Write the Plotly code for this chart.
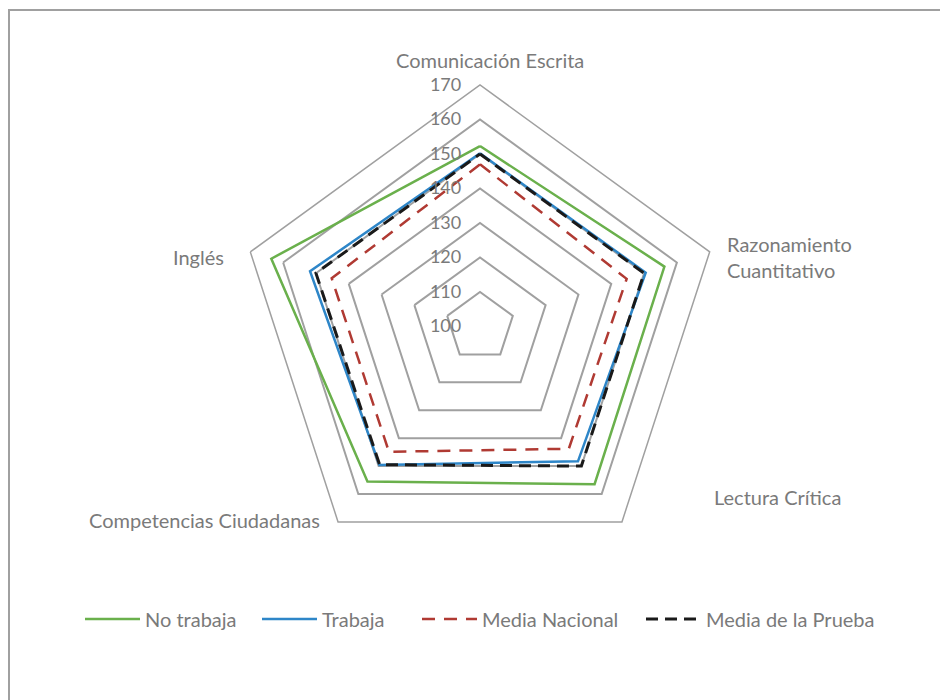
import plotly.graph_objects as go

categories = ["Comunicación Escrita", "Razonamiento Cuantitativo", "Lectura Crítica",
              "Competencias Ciudadanas", "Inglés"]
category_labels = ["Comunicación Escrita", "Razonamiento<br>Cuantitativo", "Lectura Crítica",
                   "Competencias Ciudadanas", "Inglés"]
no_trabaja = [152.3, 156.2, 156.5, 155.5, 163.6]
trabaja = [150.2, 150.5, 148.3, 149.6, 151.8]
media_nacional = [147.0, 144.7, 143.8, 144.9, 145.2]
media_prueba = [150.0, 150.0, 150.0, 149.5, 150.0]
radial_ticks = [100, 110, 120, 130, 140, 150, 160, 170]

FONT = "Lato"
TXT = "#7a7a7a"

def closed(v):
    return v + v[:1]

theta = closed(categories)

series = [
    ("No trabaja", no_trabaja, "#6AB04C", "solid", 2.5, "legend"),
    ("Trabaja", trabaja, "#2E86C8", "solid", 2.5, "legend2"),
    ("Media Nacional", media_nacional, "#B03A33", "13px,9px", 2.5, "legend3"),
    ("Media de la Prueba", media_prueba, "#1a1a1a", "12px,7px", 3, "legend4"),
]

fig = go.Figure()
for name, vals, color, dash, w, lg in series:
    fig.add_trace(go.Scatterpolar(
        r=closed(vals), theta=theta, mode="lines", name=name,
        line=dict(color=color, width=w, dash=dash),
        legend=lg, hoverinfo="skip"))

W, H = 948, 700
OFF = 8  # page body margin


def px(x):
    return (x - OFF) / W


def py(y):
    return 1 - (y - OFF) / H


cx, cy, R = 480, 326.5, 241.5

legend_x_px = [86, 263, 423, 647]
leg_common = dict(orientation="h", yanchor="middle", y=py(619), xanchor="left",
                  font=dict(family=FONT, size=20, color=TXT), bgcolor="rgba(0,0,0,0)",
                  itemwidth=55, tracegroupgap=0)
legends = {}
for i, key in enumerate(["legend", "legend2", "legend3", "legend4"]):
    legends[key] = dict(leg_common, x=px(legend_x_px[i] - 6))

annotations = []
label_pos = [
    (490, 60, "center", "center"),
    (725, 257, "left", "left"),
    (712, 497, "left", "left"),
    (322, 520, "right", "right"),
    (226, 257, "right", "right"),
]
for lab, (x, y, xa, al) in zip(category_labels, label_pos):
    annotations.append(dict(x=px(x), y=py(y), xref="paper", yref="paper", text=lab,
                            showarrow=False, xanchor=xa, yanchor="middle", align=al,
                            font=dict(family=FONT, size=20, color=TXT)))

fig.update_layout(
    width=W, height=H,
    margin=dict(l=0, r=0, t=0, b=0),
    paper_bgcolor="white",
    showlegend=True,
    polar=dict(
        domain=dict(x=[px(cx - R), px(cx + R)], y=[py(cy + R), py(cy - R)]),
        gridshape="linear",
        bgcolor="white",
        angularaxis=dict(direction="clockwise", rotation=90, showgrid=False,
                         showticklabels=False, ticks="", showline=True,
                         linecolor="#A0A0A0", linewidth=1.5,
                         categoryorder="array", categoryarray=categories),
        radialaxis=dict(range=[100, 170], tickvals=radial_ticks, angle=90, tickangle=90,
                        showline=False, gridcolor="#A0A0A0", gridwidth=1.5,
                        ticks="outside", ticklen=12, tickcolor="rgba(0,0,0,0)",
                        side="counterclockwise",
                        tickfont=dict(family=FONT, size=18, color=TXT)),
    ),
    annotations=annotations,
    shapes=[dict(type="rect", xref="paper", yref="paper", x0=px(9), y0=-0.05, x1=1.05,
                 y1=py(10), line=dict(color="#A0A0A0", width=2), fillcolor="rgba(0,0,0,0)",
                 layer="below")],
    **legends,
)

fig.write_html("out.html")
